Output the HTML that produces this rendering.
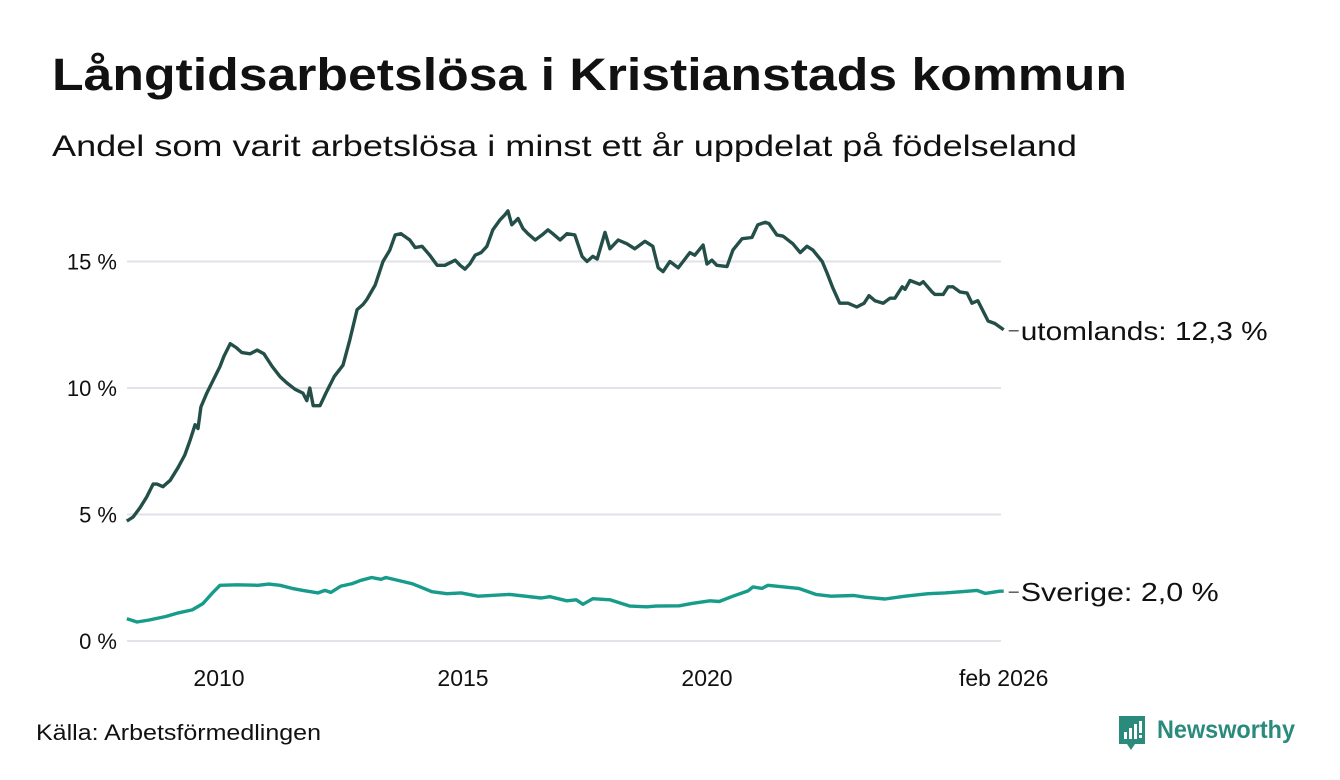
<!DOCTYPE html>
<html><head><meta charset="utf-8"><style>
body{margin:0;background:#fff;}
svg{display:block;font-family:"Liberation Sans",sans-serif;}
</style></head><body>
<svg id="chart" width="1340" height="780">
<text x="52" y="90" font-size="45" font-weight="bold" fill="#111" textLength="1075" lengthAdjust="spacingAndGlyphs">Långtidsarbetslösa i Kristianstads kommun</text>
<text x="52" y="156" font-size="30" fill="#111" textLength="1025" lengthAdjust="spacingAndGlyphs">Andel som varit arbetslösa i minst ett år uppdelat på födelseland</text>
<g id="grid"></g>
<g id="yticks"></g>
<g id="xticks"></g>
<g id="series"></g>
<text x="36" y="740" font-size="22" fill="#111" textLength="285" lengthAdjust="spacingAndGlyphs">Källa: Arbetsförmedlingen</text>
<g>
<path d="M1119 716 h26 v28 h-10 l-4 6 l-4 -6 h-8 z" fill="#2a8a7c"/>
<rect x="1124" y="732" width="3" height="7" fill="#fff"/><rect x="1129" y="728" width="3" height="11" fill="#fff"/><rect x="1134" y="724" width="3" height="15" fill="#fff"/><rect x="1139" y="721" width="3" height="12" fill="#fff"/><rect x="1139" y="735" width="3" height="3" fill="#fff"/>
<text x="1157" y="738" font-size="25" font-weight="bold" fill="#2a8a7c" textLength="138" lengthAdjust="spacingAndGlyphs">Newsworthy</text>
</g>
</svg>
<script>
const yTicks=[0,5,10,15];
const yTickLabels=["0 %","5 %","10 %","15 %"];
const xTicks=[2010,2015,2020,2026.08];
const xTickLabels=["2010","2015","2020","feb 2026"];
const utDates=[2008.11,2008.24,2008.38,2008.52,2008.65,2008.73,2008.85,2009.0,2009.16,2009.30,2009.41,2009.51,2009.57,2009.63,2009.75,2009.88,2010.02,2010.10,2010.23,2010.35,2010.47,2010.64,2010.78,2010.92,2011.09,2011.25,2011.39,2011.56,2011.72,2011.80,2011.86,2011.93,2012.07,2012.19,2012.36,2012.54,2012.68,2012.83,2012.95,2013.03,2013.20,2013.36,2013.50,2013.61,2013.73,2013.91,2014.02,2014.16,2014.32,2014.47,2014.63,2014.84,2014.94,2015.04,2015.14,2015.25,2015.37,2015.49,2015.61,2015.76,2015.86,2015.92,2016.0,2016.13,2016.23,2016.33,2016.48,2016.62,2016.74,2016.84,2016.99,2017.13,2017.29,2017.44,2017.54,2017.66,2017.75,2017.91,2018.01,2018.18,2018.36,2018.52,2018.73,2018.89,2019.0,2019.10,2019.24,2019.41,2019.51,2019.65,2019.75,2019.92,2020.0,2020.10,2020.20,2020.41,2020.53,2020.72,2020.92,2021.04,2021.19,2021.27,2021.43,2021.56,2021.76,2021.91,2022.05,2022.17,2022.36,2022.46,2022.58,2022.72,2022.89,2023.07,2023.22,2023.32,2023.44,2023.61,2023.75,2023.85,2024.0,2024.06,2024.16,2024.36,2024.43,2024.61,2024.67,2024.84,2024.94,2025.04,2025.18,2025.33,2025.43,2025.55,2025.76,2025.90,2026.08];
const utValues=[4.74,4.9,5.26,5.7,6.2,6.2,6.1,6.35,6.85,7.35,7.95,8.55,8.4,9.25,9.8,10.3,10.85,11.25,11.75,11.6,11.4,11.35,11.5,11.35,10.85,10.45,10.2,9.95,9.8,9.5,10.0,9.3,9.3,9.8,10.45,10.9,11.9,13.1,13.3,13.5,14.07,15.0,15.45,16.05,16.1,15.85,15.55,15.6,15.25,14.85,14.85,15.05,14.85,14.7,14.9,15.25,15.35,15.6,16.25,16.65,16.85,17.0,16.45,16.7,16.3,16.1,15.85,16.05,16.25,16.1,15.85,16.1,16.05,15.2,15.0,15.2,15.1,16.15,15.5,15.85,15.7,15.5,15.8,15.6,14.75,14.6,15.0,14.75,15.0,15.35,15.25,15.65,14.9,15.05,14.85,14.8,15.45,15.9,15.95,16.45,16.55,16.5,16.05,16.0,15.7,15.35,15.6,15.45,15.0,14.55,13.95,13.35,13.35,13.2,13.35,13.65,13.45,13.35,13.55,13.55,14.0,13.9,14.25,14.1,14.2,13.8,13.7,13.7,14.0,14.0,13.8,13.75,13.35,13.45,12.65,12.55,12.3];
const svDates=[2008.11,2008.32,2008.57,2008.91,2009.14,2009.45,2009.67,2009.86,2010.02,2010.37,2010.80,2011.02,2011.25,2011.50,2011.72,2012.03,2012.17,2012.29,2012.50,2012.73,2012.91,2013.13,2013.32,2013.42,2013.95,2014.20,2014.36,2014.67,2014.96,2015.31,2015.96,2016.60,2016.78,2017.13,2017.32,2017.46,2017.66,2018.01,2018.42,2018.77,2018.95,2019.43,2019.71,2020.06,2020.25,2020.53,2020.84,2020.94,2021.13,2021.25,2021.88,2022.23,2022.54,2023.01,2023.24,2023.65,2024.06,2024.53,2024.88,2025.22,2025.53,2025.70,2026.0,2026.08];
const svValues=[0.88,0.75,0.83,0.97,1.1,1.23,1.48,1.89,2.2,2.22,2.2,2.25,2.2,2.08,2.0,1.9,2.0,1.92,2.17,2.27,2.4,2.51,2.44,2.51,2.27,2.08,1.95,1.87,1.9,1.77,1.84,1.7,1.75,1.59,1.63,1.45,1.67,1.63,1.38,1.35,1.38,1.39,1.49,1.59,1.56,1.77,1.98,2.14,2.08,2.2,2.08,1.84,1.77,1.8,1.73,1.66,1.77,1.87,1.9,1.95,2.0,1.88,1.97,1.97];
const NS="http://www.w3.org/2000/svg";
const X=y=>219+(y-2010)*48.8;
const Y=v=>641-v*25.3;
function mk(tag,attrs,parent){const e=document.createElementNS(NS,tag);for(const k in attrs)e.setAttribute(k,attrs[k]);parent.appendChild(e);return e;}
const grid=document.getElementById('grid'),yt=document.getElementById('yticks'),xt=document.getElementById('xticks'),ser=document.getElementById('series');
yTicks.forEach((t,i)=>{
 const l=mk('line',{x1:127,x2:1001,y1:Y(t),y2:Y(t),stroke:'#e2e2e8','stroke-width':2},grid);
 
 
 const tx=mk('text',{x:117,y:Y(t)+8,'font-size':22,fill:'#111','text-anchor':'end'},yt);
 tx.textContent=yTickLabels[i];
 
 
});
xTicks.forEach((t,i)=>{
 const tx=mk('text',{x:X(t),y:686,'font-size':23,fill:'#111','text-anchor':'middle'},xt);
 tx.textContent=xTickLabels[i];
 
 
});
function line(dates,vals,color,name){
 const d=dates.map((t,i)=>(i?'L':'M')+X(t).toFixed(1)+' '+Y(vals[i]).toFixed(1)).join(' ');
 const p=mk('path',{d:d,fill:'none',stroke:color,'stroke-width':3.4,'stroke-linejoin':'round'},ser);
 
 
}
line(utDates,utValues,'#234f48','line-utomlands');
line(svDates,svValues,'#179b8a','line-sverige');
function lab(dates,vals,text,name,w){
 const y=Y(vals[vals.length-1]);const x=X(dates[dates.length-1]);
 mk('line',{x1:x+5,x2:x+15,y1:y+1,y2:y+1,stroke:'#333','stroke-width':1.2},ser);
 const t=mk('text',{x:x+17,y:y+10,'font-size':26,fill:'#111',textLength:w,lengthAdjust:'spacingAndGlyphs'},ser);
 t.textContent=text;
 
 
}
lab(utDates,utValues,'utomlands: 12,3 %','label-utomlands',247);
lab(svDates,svValues,'Sverige:  2,0 %','label-sverige',198);
</script>
</body></html>
